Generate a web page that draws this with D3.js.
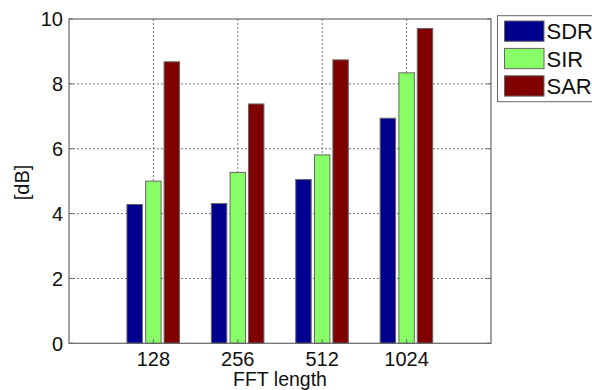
<!DOCTYPE html>
<html><head><meta charset="utf-8">
<script src="https://cdn.jsdelivr.net/npm/d3@7"></script>
<style>body{margin:0;background:#fff;} svg{display:block;font-family:"Liberation Sans",Arial,sans-serif;}</style>
</head><body>
<script>
const categories = ["128", "256", "512", "1024"];
const seriesNames = ["SDR", "SIR", "SAR"];
const SDR = [4.28, 4.31, 5.05, 6.94];
const SIR = [5.0, 5.27, 5.81, 8.34];
const SAR = [8.68, 7.38, 8.74, 9.71];
const yTicks = [0, 2, 4, 6, 8, 10];
const colors = ["#00008f", "#88ff66", "#800000"];
const seriesValues = [SDR, SIR, SAR];

const W = 592, H = 390;
const m = {left: 69, top: 19, right: 491, bottom: 343.3};
const svg = d3.select("body").append("svg").attr("width", W).attr("height", H);

const x = d3.scaleLinear().domain([0, 5]).range([m.left, m.right]);
const y = d3.scaleLinear().domain([0, 10]).range([m.bottom, m.top]);
const offsets = [-0.222, 0, 0.218];
const bw = 0.183;

// grid
const g = svg.append("g");
g.selectAll(".hg").data(yTicks.filter(d => d > 0 && d < 10)).join("line")
  .attr("x1", m.left).attr("x2", m.right).attr("y1", d => y(d)).attr("y2", d => y(d))
  .attr("stroke", "#777").attr("stroke-width", 1).attr("stroke-dasharray", "2,2");
g.selectAll(".vg").data(categories).join("line")
  .attr("x1", (d, i) => x(i + 1)).attr("x2", (d, i) => x(i + 1))
  .attr("y1", m.top).attr("y2", m.bottom)
  .attr("stroke", "#777").attr("stroke-width", 1).attr("stroke-dasharray", "2,2");

// bars
seriesValues.forEach((vals, s) => {
  svg.append("g").selectAll("rect").data(vals).join("rect")
    .attr("x", (d, i) => x(i + 1 + offsets[s] - bw / 2))
    .attr("width", x(bw) - x(0))
    .attr("y", d => y(d))
    .attr("height", d => y(0) - y(d))
    .attr("fill", colors[s])
    .attr("stroke", "#666").attr("stroke-width", 1);
});

// box
svg.append("rect").attr("x", m.left).attr("y", m.top)
  .attr("width", m.right - m.left).attr("height", m.bottom - m.top)
  .attr("fill", "none").attr("stroke", "#666").attr("stroke-width", 1.2);

// y ticks
const yAxis = svg.append("g");
yTicks.forEach(t => {
  yAxis.append("line").attr("x1", m.left).attr("x2", m.left + 4).attr("y1", y(t)).attr("y2", y(t)).attr("stroke", "#666");
  yAxis.append("line").attr("x1", m.right).attr("x2", m.right - 4).attr("y1", y(t)).attr("y2", y(t)).attr("stroke", "#666");
  yAxis.append("text").attr("x", m.left - 6).attr("y", y(t)).attr("dy", "0.36em")
    .attr("text-anchor", "end").attr("font-size", 20).attr("fill", "#111").text(t);
});
// x ticks
categories.forEach((c, i) => {
  svg.append("line").attr("x1", x(i + 1)).attr("x2", x(i + 1)).attr("y1", m.bottom).attr("y2", m.bottom - 4).attr("stroke", "#666");
  svg.append("text").attr("x", x(i + 1)).attr("y", 366).attr("text-anchor", "middle")
    .attr("font-size", 20).attr("fill", "#111").text(c);
});

// axis labels
svg.append("text").attr("transform", `translate(29,182.5) rotate(-90)`)
  .attr("text-anchor", "middle").attr("font-size", 20).attr("fill", "#111").text("[dB]");
svg.append("text").attr("x", (m.left + m.right) / 2).attr("y", 385.5).attr("text-anchor", "middle")
  .attr("font-size", 19.5).attr("fill", "#111").text("FFT length");

// legend
const lg = svg.append("g");
lg.append("rect").attr("x", 497.5).attr("y", 15.7).attr("width", 110).attr("height", 86)
  .attr("fill", "#fff").attr("stroke", "#666").attr("stroke-width", 1);
seriesNames.forEach((n, i) => {
  const yy = 21 + i * 27.4;
  lg.append("rect").attr("x", 504.5).attr("y", yy).attr("width", 39.5).attr("height", 20.3)
    .attr("fill", colors[i]).attr("stroke", "#666");
  lg.append("text").attr("x", 546.5).attr("y", yy + 10.5).attr("dy", "0.36em")
    .attr("font-size", 22).attr("fill", "#111").text(n);
});
</script>
</body></html>
